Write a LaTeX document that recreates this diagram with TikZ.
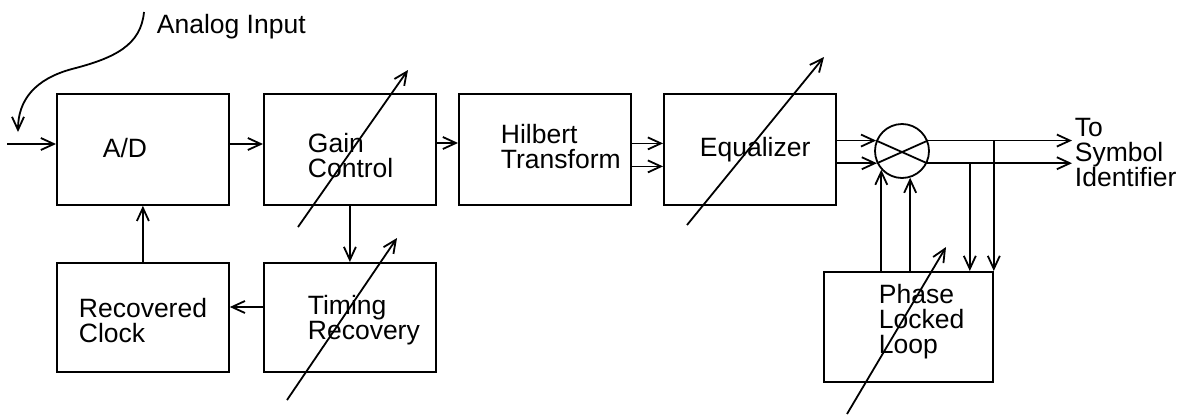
\documentclass[tikz,border=0pt]{standalone}
\usepackage{fontspec}
\setmainfont{Liberation Sans}
\usetikzlibrary{arrows.meta,calc}

\begin{document}
\begin{tikzpicture}[x=1pt,y=-1pt,
  line width=1.8pt,
  tip/.style={-{Straight Barb[length=13pt,width=12pt,line width=1.8pt]}},
  blk/.style={draw,rectangle,inner sep=0pt,anchor=north west,
              minimum width=172pt,minimum height=111pt},
  lbl/.style={inner sep=0pt,align=left,anchor=north west,
              font=\fontsize{26.5}{25}\selectfont},
  lbl1/.style={inner sep=0pt,anchor=base west,
              font=\fontsize{26.5}{25}\selectfont},
  adj/.style={tip}]
\useasboundingbox (0,0) rectangle (1190,415);

% processing blocks
\node[blk] (ad)  at (56,93)  {};
\node[blk] (gc)  at (263,93) {};
\node[blk] (ht)  at (458,93) {};
\node[blk] (eq)  at (663,93) {};
\node[blk,minimum height=109pt] (rc) at (56,262)  {};
\node[blk,minimum height=109pt] (tr) at (263,262) {};
\node[blk,minimum width=169pt,minimum height=110pt] (pll) at (823,271) {};
\node[draw,circle,minimum size=54pt,inner sep=0pt] (mx) at (902,151) {};

% block labels
\node[lbl1] (tad) at (102,157) {A/D};
\node[lbl]  (tgc) at (307,132) {Gain\\Control};
\node[lbl]  (tht) at (500,123) {Hilbert\\Transform};
\node[lbl1] (teq) at (699,156) {Equalizer};
\node[lbl]  (trc) at (78,297)  {Recovered\\Clock};
\node[lbl]  (ttr) at (307,294) {Timing\\Recovery};
\node[lbl]  (tpl) at (878,283) {Phase\\Locked\\Loop};
\node[lbl]  (tout) at (1074,117) {To\\Symbol\\Identifier};
\node[lbl1] (tin) at (156,33) {Analog Input};

% helper coordinates
\coordinate (in0) at (7,144);
\coordinate (outx) at (1072,0);
\coordinate (rcy) at (0,307);

% analog input pointer
\draw[tip] (144,12) .. controls (141,45) and (115,58) .. (72,69)
                    .. controls (35,79) and (18,100) .. (18,132);

% forward chain
\draw[tip] (in0) -- (in0 -| ad.west);
\draw[tip] (ad.east |- in0) -- (gc.west |- in0);
\draw[tip] ($(gc.east |- in0)+(0,-1)$) -- ($(ht.west |- in0)+(0,-1)$);
\draw[tip] ($(ht.east)+(0,-6)$) -- ($(eq.west)+(0,-6)$);
\draw[tip] ($(ht.east)+(0,17)$) -- ($(eq.west)+(0,17)$);
\draw[tip] (eq.east |- mx.158) -- (mx.158);
\draw[tip] (eq.east |- mx.206) -- (mx.206);

% mixer cross and outputs
\draw (mx.158) -- (mx.-26);
\draw (mx.206) -- (mx.22);
\draw[tip] (mx.22) -- (mx.22 -| outx);
\draw[tip] (mx.-26) -- (mx.-26 -| outx);

% phase locked loop feedback
\draw[tip] (pll.north east |- mx.22) -- (pll.north east);
\draw[tip] ($(pll.north east |- mx.-26)+(-24,0)$) -- ($(pll.north east)+(-24,0)$);
\draw[tip] (mx.222 |- pll.north) -- (mx.222);
\draw[tip] (mx.287 |- pll.north) -- (mx.287);

% timing loop
\draw[tip] (gc.south) -- (tr.north);
\draw[tip] (tr.west |- rcy) -- (rc.east |- rcy);
\draw[tip] (rc.north) -- (ad.south);

% adjustable-block arrows
\draw[adj] (298,227) -- (408,70);
\draw[adj] (287,400) -- (397,238);
\draw[adj] (687,225) -- (824,57);
\draw[adj] (847,414) -- (946,247);
\end{tikzpicture}
\end{document}
